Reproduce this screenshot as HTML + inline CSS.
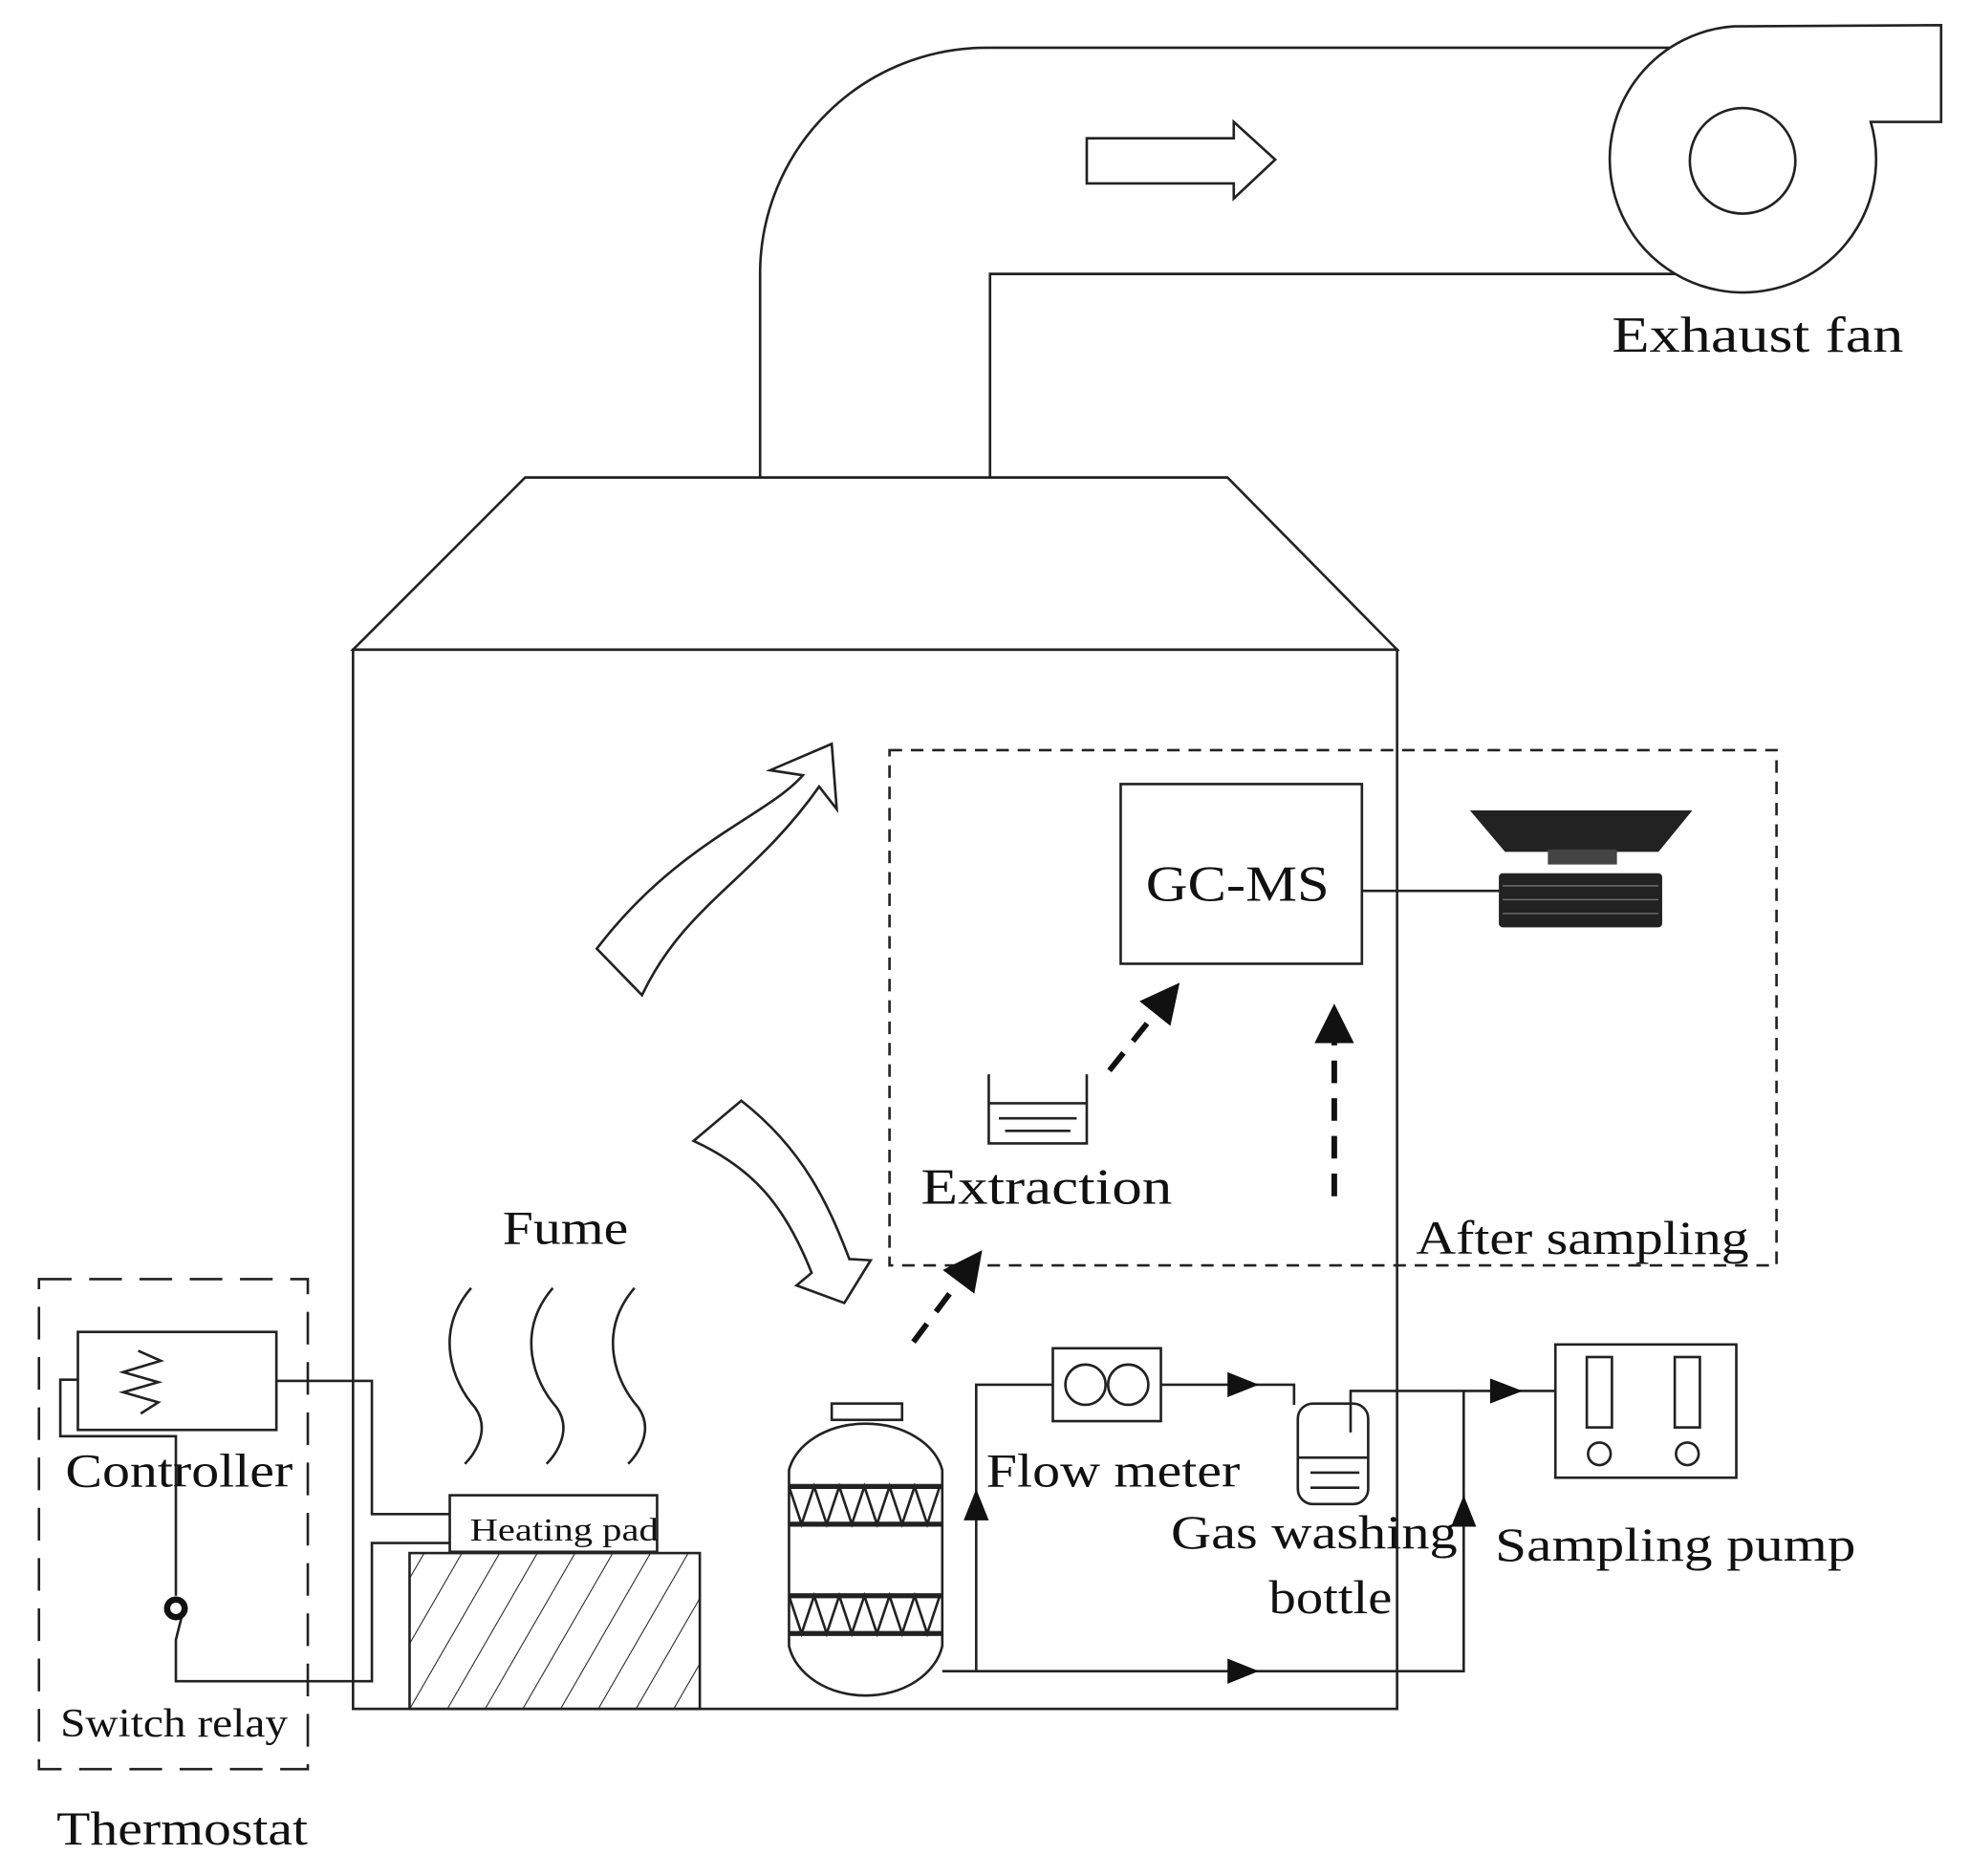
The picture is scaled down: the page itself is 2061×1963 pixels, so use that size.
<!DOCTYPE html>
<html><head><meta charset="utf-8"><style>
html,body{margin:0;padding:0;background:#fff;}
svg{display:block;}
text{font-family:"Liberation Serif",serif;fill:#111;}
</style></head><body>
<svg width="2061" height="1963" viewBox="0 0 1568 1493" preserveAspectRatio="none" xmlns="http://www.w3.org/2000/svg">
<defs>
<marker id="ah" viewBox="0 0 10 10" refX="8" refY="5" markerWidth="7" markerHeight="7" orient="auto"><path d="M0,0 L10,5 L0,10 Z" fill="#111"/></marker>
<pattern id="hatch" width="26" height="26" patternUnits="userSpaceOnUse" patternTransform="rotate(30)"><line x1="0" y1="0" x2="0" y2="26" stroke="#222" stroke-width="1.6"/></pattern>
</defs>
<g fill="none" stroke="#222" stroke-width="2">
<!-- duct -->
<path d="M605,380 L605,215 A180,180 0 0 1 785,38 L1329,38"/>
<path d="M788,380 L788,218 L1333,218"/>
<!-- fan -->
<path d="M1489,97 A106,106 0 1 1 1380,21 L1545,20 L1545,97 Z"/>
<circle cx="1387" cy="128" r="42"/>
<!-- hollow arrow -->
<path d="M865,110 L982,110 L982,97 L1015,127 L982,158 L982,146 L865,146 Z"/>
<!-- hood and box -->
<path d="M418,380 L977,380 L1112,517 L281,517 Z"/>
<rect x="281" y="517" width="831" height="843"/>
<!-- dashed box -->
<rect x="708" y="597" width="706" height="410" stroke-dasharray="10,7"/>
<!-- GC-MS -->
<rect x="892" y="624" width="192" height="143"/>
<line x1="1084" y1="709" x2="1193" y2="709"/>
</g>
<text x="912" y="717" font-size="40" textLength="146" lengthAdjust="spacingAndGlyphs">GC-MS</text>
<!-- computer -->
<path d="M1170,645 L1347,645 L1320,678 L1198,678 Z" fill="#222"/>
<rect x="1232" y="676" width="55" height="12" fill="#444"/>
<rect x="1193" y="695" width="130" height="43" rx="3" fill="#222"/>
<g stroke="#777" stroke-width="1"><line x1="1196" y1="705" x2="1320" y2="705"/><line x1="1196" y1="716" x2="1320" y2="716"/><line x1="1196" y1="727" x2="1320" y2="727"/></g>
<!-- curved fume arrows -->
<g fill="none" stroke="#222" stroke-width="2" stroke-linejoin="miter">
<path d="M662,592 L613,613 L639,617 C610,650 540,670 475,755 L511,792 C545,720 600,700 652,626 L666,644 Z"/>
<path d="M552,908 L590,876 C640,915 660,960 676,1002 L693,1003 L672,1037 L634,1023 L646,1013 C625,960 600,930 552,908 Z"/>
<!-- fume waves -->
<path d="M375,1025 C345,1060 360,1100 378,1120 C392,1140 375,1160 370,1165"/>
<path d="M440,1025 C410,1060 425,1100 443,1120 C457,1140 440,1160 435,1165"/>
<path d="M505,1025 C475,1060 490,1100 508,1120 C522,1140 505,1160 500,1165"/>
</g>
<text x="400" y="990" font-size="38" textLength="100" lengthAdjust="spacingAndGlyphs">Fume</text>
<!-- dashed arrows -->
<g stroke="#111" stroke-width="4.5" stroke-dasharray="18,12" fill="none">
<line x1="883" y1="852" x2="935" y2="787" marker-end="url(#ah)"/>
<line x1="1062" y1="952" x2="1062" y2="805" marker-end="url(#ah)"/>
<line x1="727" y1="1068" x2="778" y2="1000" marker-end="url(#ah)"/>
</g>
<!-- extraction beaker -->
<g fill="none" stroke="#222" stroke-width="2">
<path d="M787,855 L787,910 L865,910 L865,855"/>
<line x1="787" y1="878" x2="865" y2="878"/><line x1="795" y1="890" x2="857" y2="890"/><line x1="800" y1="900" x2="852" y2="900"/>
</g>
<text x="733" y="958" font-size="40" textLength="200" lengthAdjust="spacingAndGlyphs">Extraction</text>
<text x="1127" y="998" font-size="38" textLength="265" lengthAdjust="spacingAndGlyphs">After sampling</text>
<!-- Thermostat -->
<g fill="none" stroke="#222" stroke-width="2">
<rect x="31" y="1018" width="214" height="390" stroke-dasharray="26,14"/>
<rect x="62" y="1060" width="158" height="78"/>
<path d="M110,1075 L128,1083 L98,1092 L126,1100 L98,1108 L126,1116 L112,1125"/>
<path d="M62,1098 L48,1098 L48,1143 L140,1143 L140,1270"/>
<path d="M220,1099 L296,1099 L296,1205 L358,1205"/>
<path d="M358,1228 L296,1228 L296,1338 L140,1338 L140,1305 L145,1285"/>
<rect x="358" y="1190" width="165" height="45"/>
<rect x="326" y="1236" width="231" height="124"/>
</g>
<rect x="326" y="1236" width="231" height="124" fill="url(#hatch)"/>
<circle cx="140" cy="1280" r="7" fill="none" stroke="#111" stroke-width="5"/>
<text x="52" y="1183" font-size="38" textLength="181" lengthAdjust="spacingAndGlyphs">Controller</text>
<text x="374" y="1226" font-size="26" textLength="150" lengthAdjust="spacingAndGlyphs">Heating pad</text>
<text x="48" y="1382" font-size="32" textLength="181" lengthAdjust="spacingAndGlyphs">Switch relay</text>
<text x="45" y="1468" font-size="38" textLength="200" lengthAdjust="spacingAndGlyphs">Thermostat</text>
<!-- column -->
<g fill="none" stroke="#222" stroke-width="2">
<rect x="662" y="1117" width="56" height="13"/>
<path d="M628,1170 A62,45 0 0 1 750,1170 L750,1310 A62,48 0 0 1 628,1310 Z"/>
<line x1="628" y1="1183" x2="750" y2="1183" stroke-width="4"/><line x1="628" y1="1213" x2="750" y2="1213" stroke-width="4"/>
<path d="M628,1183 L638,1213 L648,1183 L658,1213 L668,1183 L678,1213 L688,1183 L698,1213 L708,1183 L718,1213 L728,1183 L738,1213 L748,1183"/>
<line x1="628" y1="1270" x2="750" y2="1270" stroke-width="4"/><line x1="628" y1="1300" x2="750" y2="1300" stroke-width="4"/>
<path d="M628,1270 L638,1300 L648,1270 L658,1300 L668,1270 L678,1300 L688,1270 L698,1300 L708,1270 L718,1300 L728,1270 L738,1300 L748,1270"/>
<!-- piping -->
<path d="M750,1330 L1165,1330 L1165,1190"/>
<line x1="777" y1="1330" x2="777" y2="1190"/>
<path d="M777,1190 L777,1102 L838,1102"/>
<rect x="838" y="1073" width="86" height="58"/>
<circle cx="864" cy="1102" r="16"/><circle cx="898" cy="1102" r="16"/>
<path d="M924,1102 L1030,1102 L1030,1118"/>
<rect x="1033" y="1117" width="56" height="80" rx="12"/>
<line x1="1033" y1="1160" x2="1089" y2="1160"/><line x1="1043" y1="1172" x2="1082" y2="1172"/><line x1="1043" y1="1184" x2="1082" y2="1184"/>
<path d="M1075,1140 L1075,1107 L1238,1107"/>
<line x1="1165" y1="1107" x2="1165" y2="1195"/>
<rect x="1238" y="1070" width="144" height="106"/>
<rect x="1263" y="1080" width="20" height="56"/><rect x="1333" y="1080" width="20" height="56"/>
<circle cx="1273" cy="1157" r="9"/><circle cx="1343" cy="1157" r="9"/>
</g>
<g fill="#111">
<path d="M977,1092 L1002,1102 L977,1112 Z"/>
<path d="M1186,1097 L1212,1107 L1186,1117 Z"/>
<path d="M977,1320 L1002,1330 L977,1340 Z"/>
<path d="M767,1210 L777,1185 L787,1210 Z"/>
<path d="M1155,1215 L1165,1190 L1175,1215 Z"/>
</g>
<text x="785" y="1183" font-size="38" textLength="202" lengthAdjust="spacingAndGlyphs">Flow meter</text>
<text x="932" y="1232" font-size="38" textLength="228" lengthAdjust="spacingAndGlyphs">Gas washing</text>
<text x="1010" y="1284" font-size="38" textLength="98" lengthAdjust="spacingAndGlyphs">bottle</text>
<text x="1190" y="1242" font-size="38" textLength="287" lengthAdjust="spacingAndGlyphs">Sampling pump</text>
<text x="1283" y="280" font-size="40" textLength="232" lengthAdjust="spacingAndGlyphs">Exhaust fan</text>
</svg>
</body></html>
